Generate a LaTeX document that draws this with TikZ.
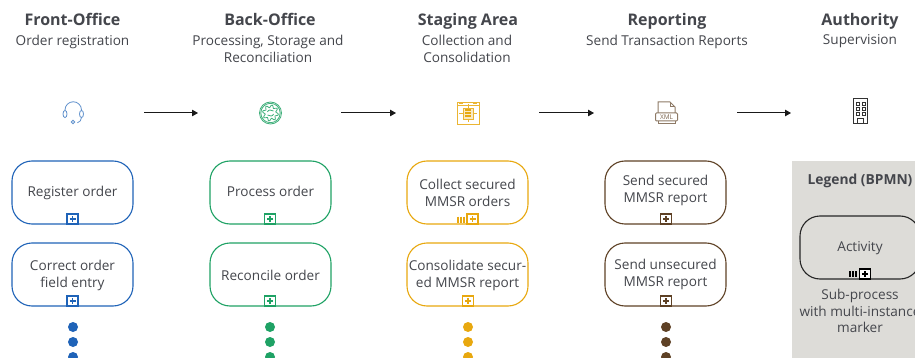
\documentclass[tikz,border=0pt]{standalone}
\usepackage{fontspec}
\setmainfont{Open Sans}
\usetikzlibrary{arrows.meta}
\definecolor{cblue}{HTML}{1F63B8}
\definecolor{cgreen}{HTML}{1FA265}
\definecolor{cyel}{HTML}{E8A80F}
\definecolor{cbrown}{HTML}{5E4125}
\definecolor{txt}{HTML}{44464C}
\definecolor{legbg}{HTML}{DDDCD8}
\tikzset{
  x=1pt,y=-1pt,
  head/.style={font=\fontsize{16}{18}\selectfont\bfseries,text=txt,anchor=base,inner sep=0pt},
  sub/.style={font=\fontsize{13.6}{16.5}\selectfont,text=txt,align=center,anchor=north,inner sep=0pt},
  act/.style={draw=#1,line width=1.1pt,rounded corners=20pt,minimum width=121pt,minimum height=63pt,
    inner sep=0pt,outer sep=0pt,align=center,font=\fontsize{13.6}{16.8}\selectfont,text=txt,anchor=north west},
  flow/.style={draw=black!90,line width=1pt,-{Triangle[length=6pt,width=6.5pt]}},
  dotm/.style={circle,fill=#1,minimum size=10pt,inner sep=0pt},
}
% text strut that moves a label down by #1 pt inside its box
\newcommand{\dn}[1]{\rule{0pt}{\dimexpr 11.76pt+#1pt+#1pt\relax}\strut}
% text strut that moves a label up by #1 pt inside its box
\newcommand{\upp}[1]{\rule[\dimexpr -5.04pt-#1pt-#1pt\relax]{0pt}{1pt}\strut}
\newcommand{\plusmark}[3]{% x,y,colour
  \draw[#3,line width=1.4pt,fill=white] (#1-5.5,#2-5) rectangle (#1+5.5,#2+5);
  \draw[#3,line width=1.5pt] (#1-3,#2) -- (#1+3,#2) (#1,#2-3) -- (#1,#2+3);
}
\newcommand{\barsmark}[3]{%
  \foreach \d in {0,2.8,5.6}{\draw[#3,line width=1.9pt] (#1+\d,#2-3) -- (#1+\d,#2+3);}
}
\begin{document}
\begin{tikzpicture}
\useasboundingbox (0,0) rectangle (915,358);
\clip (0,0) rectangle (915,358);
\fill[white] (0,0) rectangle (915,358);
% headings
\node[head] (h1) at (72.5,25.5) {Front-Office};
\node[head] (h2) at (270,25.5) {Back-Office};
\node[head] (h3) at (468,25.5) {Staging Area};
\node[head] (h4) at (667,25.5) {Reporting};
\node[head] (h5) at (860,25.5) {Authority};
\node[sub] (s1) at (72.5,35) {Order registration};
\node[sub] (s2) at (268,35) {Processing, Storage and\\Reconciliation};
\node[sub] (s3) at (467,35) {Collection and\\Consolidation};
\node[sub] (s4) at (667,35) {Send Transaction Reports};
\node[sub] (s5) at (860,34) {Supervision};
% icons
\begin{scope}[draw=cblue!70!white,line width=.8pt]
  \coordinate (i1) at (73,113);
  \draw (65,110) arc[start angle=180,end angle=360,radius=8.25];
  \draw (65,114) ellipse[x radius=2,y radius=3.6];
  \draw (81.5,114) ellipse[x radius=2,y radius=3.6];
  \draw (81.5,117.5) arc[start angle=0,end angle=75,radius=5.5];
  \draw (73,122) circle[radius=1.7];
\end{scope}
\begin{scope}[draw=cgreen!85!white,line width=.8pt]
  \coordinate (i2) at (270.5,113);
  \draw (i2) circle[radius=11];
  \draw (i2) circle[radius=9.7];
  \draw plot[domain=0:360,samples=97,smooth cycle] ({270.5+(6.7+1.3*sin(8*\x))*cos(\x)},{113+(6.7+1.3*sin(8*\x))*sin(\x)});
  \draw (267.5,112) .. controls (268,109.5) and (271.5,109.5) .. (273.5,111);
  \draw (273.5,114) .. controls (273,116.5) and (269.5,116.5) .. (267.5,115);
\end{scope}
\begin{scope}[draw=cyel!85!white,line width=.8pt]
  \coordinate (i3) at (468,113);
  \draw (457,102) rectangle (479,124);
  \draw (457,105) -- (479,105);
  \draw[line width=1.3pt] (459,103.5) -- (463,103.5) (473,103.5) -- (477,103.5);
  \draw[fill=cyel!25!white] (463,108) rectangle (473,119);
  \draw[line width=1.3pt,cyel] (465,110) -- (471,110) (465,113) -- (471,113) (465,116) -- (471,116);
  \draw (459,113) -- (463,113) (473,113) -- (477,113) (468,104) -- (468,108) (468,119) -- (468,122);
\end{scope}
\begin{scope}[draw=cbrown!70!white,line width=1pt]
  \coordinate (i4) at (667,113);
  \draw (658,113) -- (658,102) -- (670,102) -- (675,107) -- (675,113);
  \draw (670,102) -- (670,107) -- (675,107);
  \draw[rounded corners=1pt] (655.5,113) rectangle (677.5,121);
  \draw (658,121) -- (658,124) -- (675,124) -- (675,121);
  \node[inner sep=0pt,font=\fontsize{6.5}{6.5}\selectfont,text=cbrown!80!white] (xml) at (666.5,117) {XML};
\end{scope}
\begin{scope}[draw=black!80,line width=.9pt]
  \coordinate (i5) at (860,113);
  \draw (853.5,98.5) rectangle (867.5,123.5);
  \foreach \yy in {102,107,112}{\draw (856,\yy) rectangle (859,\yy+3); \draw (862,\yy) rectangle (865,\yy+3);}
  \draw (857.5,123.5) -- (857.5,118) -- (863.5,118) -- (863.5,123.5);
\end{scope}
% flow arrows
\coordinate (a1s) at (144,113); \coordinate (a1e) at (198,113);
\coordinate (a2s) at (341,113); \coordinate (a2e) at (396,113);
\coordinate (a3s) at (539,113); \coordinate (a3e) at (594,113);
\coordinate (a4s) at (737,113); \coordinate (a4e) at (791,113);
\draw[flow] (a1s) -- (a1e);
\draw[flow] (a2s) -- (a2e);
\draw[flow] (a3s) -- (a3e);
\draw[flow] (a4s) -- (a4e);
% legend
\fill[legbg] (792,161) rectangle (915,358);
\node[font=\fontsize{13.8}{16}\selectfont\bfseries,text=txt,inner sep=0pt] (lt) at (860,181) {Legend (BPMN)};
\node[act=black!85,minimum width=120pt] (la) at (800,216) {\dn{1}Activity};
\barsmark{850}{274}{black}
\plusmark{865}{274}{black}
\node[sub] (ls) at (860,289) {Sub-process\\with multi-instance\\marker};
% activities
\node[act=cblue] (a1) at (12,161) {\dn{1}Register order};
\node[act=cblue] (a2) at (12,243) {\dn{1}Correct order\\\strut field entry};
\node[act=cgreen] (b1) at (210,161) {\dn{1}Process order};
\node[act=cgreen] (b2) at (210,243) {\dn{3}Reconcile order};
\node[act=cyel] (c1) at (407,161) {\dn{2}Collect secured\\\strut MMSR orders};
\node[act=cyel] (c2) at (407,243) {\dn{1}Consolidate secur-\\\strut ed MMSR report};
\node[act=cbrown] (d1) at (605,161) {\strut Send secured\\\upp{2}MMSR report};
\node[act=cbrown] (d2) at (605,243) {\strut Send unsecured\\\strut MMSR report};
\plusmark{72.5}{219}{cblue}
\plusmark{72.5}{301}{cblue}
\plusmark{270}{219}{cgreen}
\plusmark{270}{301}{cgreen}
\plusmark{472.5}{219}{cyel}
\barsmark{458}{219.5}{cyel}
\plusmark{468}{301}{cyel}
\plusmark{666}{219}{cbrown}
\plusmark{666}{301}{cbrown}
% ellipsis dots
\foreach \xx/\cc in {73/cblue,270/cgreen,468/cyel,666/cbrown}{
  \foreach \yy in {327,342,357}{
    \node[dotm=\cc] at (\xx,\yy) {};
  }
}
\end{tikzpicture}
\end{document}
